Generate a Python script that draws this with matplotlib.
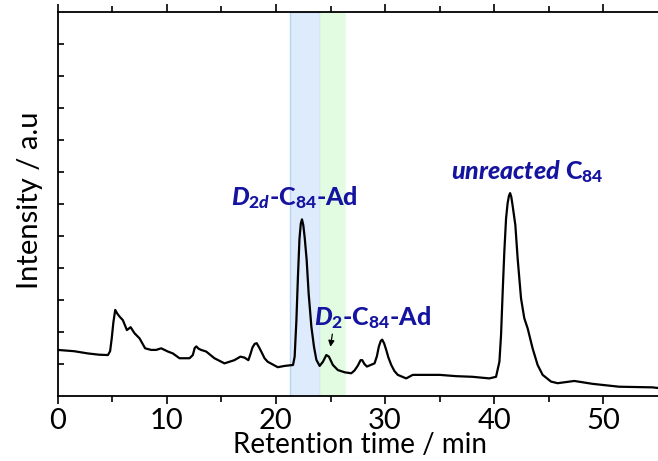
import matplotlib.pyplot as plt
import numpy as np

plt.rcParams['font.family'] = ['Lato', 'DejaVu Sans']
plt.rcParams['mathtext.fontset'] = 'custom'
plt.rcParams['mathtext.rm'] = 'Lato:black'
plt.rcParams['mathtext.it'] = 'Lato:italic:black'
plt.rcParams['mathtext.bf'] = 'Lato:black'

# chromatogram (retention time / min, intensity a.u.)
rt = [0.0, 1.5, 2.77, 3.8, 4.60, 4.80, 4.95, 5.10, 5.27, 5.45, 5.67, 5.97,
      6.34, 6.68, 7.04, 7.50, 8.01, 8.56, 9.02, 9.48, 10.09, 10.55, 11.16,
      12.08, 12.38, 12.55, 12.70, 12.90, 13.14, 13.60, 14.36, 15.28, 16.19,
      16.74, 17.11, 17.47, 17.65, 17.85, 18.05, 18.23, 18.45, 18.69, 18.95,
      19.24, 20.16, 20.80, 21.56, 21.71, 21.87, 22.01, 22.15, 22.27, 22.38,
      22.50, 22.63, 22.81, 22.99, 23.24, 23.48, 23.70, 24.00, 24.30, 24.61,
      24.85, 25.21, 25.67, 26.30, 26.90, 27.20, 27.50, 27.75, 27.90, 28.10,
      28.33, 29.03, 29.25, 29.42, 29.60, 29.73, 29.90, 30.10, 30.30, 30.56,
      30.85, 31.16, 31.93, 32.53, 33.76, 35.00, 36.50, 38.00, 39.55, 40.16,
      40.47, 40.62, 40.77, 40.92, 41.08, 41.22, 41.34, 41.45, 41.56, 41.68,
      41.93, 42.14, 42.45, 42.75, 43.06, 43.51, 43.97, 44.43, 45.20, 45.80,
      47.33, 49.00, 51.44, 54.49, 55.0]
intensity = [1.44, 1.40, 1.33, 1.29, 1.28, 1.40, 1.80, 2.30, 2.69, 2.58, 2.48,
             2.37, 2.06, 2.15, 1.96, 1.80, 1.49, 1.44, 1.44, 1.49, 1.39, 1.33,
             1.18, 1.18, 1.28, 1.50, 1.55, 1.48, 1.44, 1.39, 1.18, 1.02, 1.12,
             1.23, 1.20, 1.12, 1.30, 1.52, 1.63, 1.65, 1.52, 1.36, 1.18, 1.07,
             0.90, 0.94, 0.97, 1.23, 2.37, 3.73, 4.90, 5.38, 5.52, 5.34, 4.95,
             4.25, 3.21, 2.17, 1.54, 1.13, 0.94, 1.07, 1.28, 1.23, 0.97, 0.81,
             0.74, 0.71, 0.80, 0.95, 1.12, 1.12, 1.00, 0.92, 1.02, 1.25, 1.54,
             1.72, 1.76, 1.65, 1.44, 1.20, 0.97, 0.78, 0.66, 0.55, 0.66, 0.66,
             0.66, 0.62, 0.60, 0.55, 0.60, 1.07, 1.91, 3.26, 4.51, 5.55, 6.02,
             6.25, 6.34, 6.22, 5.95, 5.34, 4.30, 3.05, 2.43, 2.11, 1.49, 0.97,
             0.66, 0.45, 0.40, 0.47, 0.38, 0.29, 0.27, 0.25]

# collected fractions
band_blue = (21.25, 24.0)
band_green = (24.0, 26.28)

label_color = '#1414a0'

fig = plt.figure(figsize=(6.58, 4.61), dpi=100)
ax = fig.add_axes([0.0877, 0.141, 0.9123, 0.833])

ax.axvspan(*band_blue, facecolor='#ddebfc', edgecolor='#b8d4f4', lw=1.0, zorder=0)
ax.axvspan(*band_green, facecolor='#e2fce2', edgecolor='#e2fce2', lw=0.5, zorder=0)

ax.plot(rt, intensity, color='black', lw=1.6, zorder=3)

ax.text(21.7, 6.2, r'$D_{2d}$-C$_{84}$-Ad', color=label_color, fontsize=18,
        fontweight='black', ha='center', va='center')
ax.text(28.85, 2.45, r'$D_{2}$-C$_{84}$-Ad', color=label_color, fontsize=18,
        fontweight='black', ha='center', va='center')
ax.text(43.0, 7.0, r'$unreacted$ C$_{84}$', color=label_color, fontsize=18,
        fontweight='black', ha='center', va='center')
ax.annotate('', xy=(24.95, 1.45), xytext=(25.2, 2.02),
            arrowprops=dict(arrowstyle='-|>', color='black', lw=0.9,
                            mutation_scale=9))

ax.set_xlim(0, 55)
ax.set_ylim(0, 12)
ax.set_xticks(np.arange(0, 51, 10))
ax.set_xticks(np.arange(5, 55, 10), minor=True)
ax.set_yticks(np.arange(1, 12, 1))
ax.set_yticklabels([])
ax.tick_params(axis='x', which='major', direction='out', length=6, width=1.2,
               labelsize=21, pad=3, top=True)
ax.tick_params(axis='x', which='minor', direction='out', length=4, width=1.2, top=True)
ax.tick_params(axis='y', direction='in', length=4, width=1.2)
for sp in ['left', 'bottom', 'top']:
    ax.spines[sp].set_linewidth(1.3)
ax.spines['right'].set_visible(False)

ax.set_xlabel('Retention time / min', fontsize=20)
ax.xaxis.set_label_coords(0.504, -0.095)
ax.set_ylabel('Intensity / a.u', fontsize=21)
ax.yaxis.set_label_coords(-0.025, 0.51)

fig.savefig('out.png', dpi=100)
